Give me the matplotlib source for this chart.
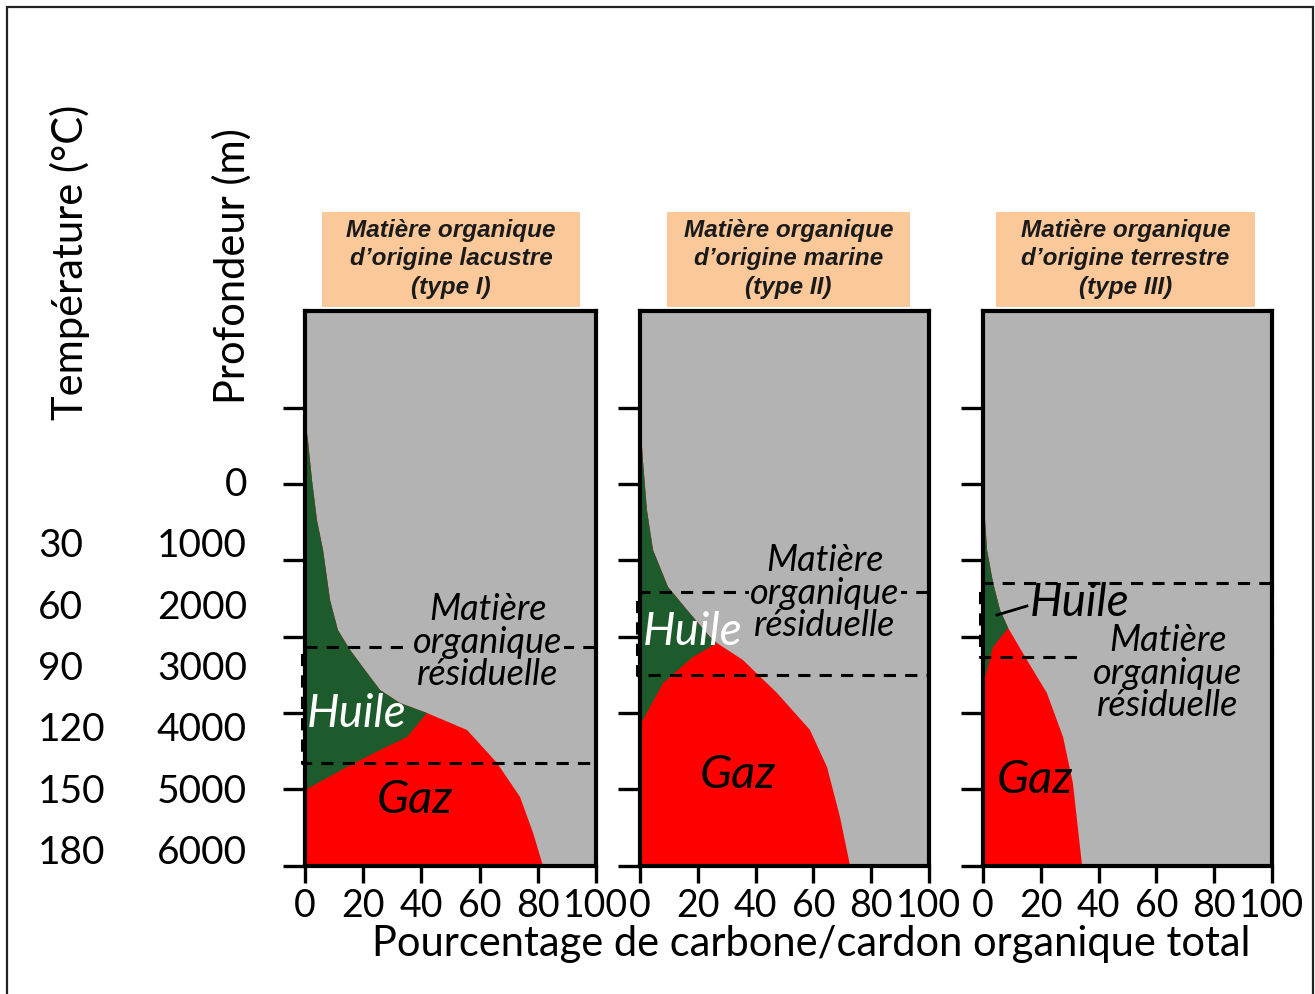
import matplotlib
matplotlib.use("Agg")
import matplotlib.pyplot as plt
from matplotlib.patches import Rectangle, Polygon
import numpy as np

W, H = 1315, 994

# ---- données (pourcentage, profondeur en m) ----
titres = ["Matière organique\nd\u2019origine lacustre\n(type I)",
          "Matière organique\nd\u2019origine marine\n(type II)",
          "Matière organique\nd\u2019origine terrestre\n(type III)"]

# limite externe (gris / couleur), du haut vers le bas
ext_pct = [
    [0, 1.0, 2.4, 4.1, 6.2, 8.6, 11.3, 15.5, 20.6, 25.8, 32.6, 41.9, 55.7, 66.0, 73.9, 78.4, 81.8],
    [0, 1.0, 2.4, 4.5, 9.7, 16.3, 24.2, 26.6, 35.6, 47.4, 58.8, 64.7, 69.2, 72.7],
    [0, 0.7, 1.4, 3.5, 5.9, 8.7, 15.2, 22.1, 27.7, 31.1, 34.3],
]
ext_prof = [
    [-865, -577, -52, 472, 865, 1520, 1913, 2175, 2438, 2700, 2870, 3001, 3224, 3656, 4102, 4574, 5006],
    [-865, -315, 341, 865, 1350, 1651, 2005, 2084, 2306, 2738, 3223, 3708, 4364, 5006],
    [-79, 472, 865, 1297, 1651, 1887, 2306, 2738, 3315, 3918, 5006],
]
# indice du point où huile et gaz se rejoignent
jonction = [11, 7, 5]
# limite huile / gaz, de la jonction jusqu'à l'axe
hg_pct = [
    [41.9, 35.1, 25.8, 14.4, 0],
    [26.6, 18.3, 8.0, 1.0, 0],
    [8.7, 3.5, 1.4, 0],
]
hg_prof = [
    [3001, 3316, 3486, 3709, 4010],
    [2084, 2267, 2608, 3093, 3120],
    [1887, 2136, 2437, 2608],
]
# fenêtre à huile (tirets) : haut, bas, fin du trait du bas
fenetre = [(2136, 3657, 99.5), (1415, 2503, 99.5), (1297, 2267, 35)]

# étiquettes de gauche
profondeurs = [0, 1000, 2000, 3000, 4000, 5000, 6000]
temperatures = ["", "30", "60", "90", "120", "150", "180"]
xticks = [0, 20, 40, 60, 80, 100]
yticks = [-1000, 0, 1000, 2000, 3000, 4000, 5000]

GRIS = "#b3b3b3"
VERT = "#1e5b2c"
ROUGE = "#ff0000"
PECHE = "#fbc999"

fig = plt.figure(figsize=(W / 100, H / 100), dpi=100)
fig.patch.set_facecolor("white")


def px_ax(x0, x1, y0, y1):
    return fig.add_axes([x0 / W, (H - y1) / H, (x1 - x0) / W, (y1 - y0) / H])


panels = [(305, 596), (640, 929), (983, 1272)]
entetes = [(322, 580), (667, 910), (996, 1255)]
txt_res = [(62.9, 2071), (64.0, 1429), (64.0, 2477)]
txt_huile = [(17.9, 3014), (18.3, 1940), (16.3, 1560)]
txt_gaz = [(37.8, 4141), (33.9, 3814), (18.0, 3879)]
DASH = (0, (4, 3))

for i, (x0, x1) in enumerate(panels):
    ax = px_ax(x0, x1, 311, 866)
    ax.set_facecolor(GRIS)
    ax.set_xlim(0, 100)
    ax.set_ylim(5006, -2267)

    ex = np.array(ext_pct[i])
    ey = np.array(ext_prof[i])
    # zone colorée totale (rouge), puis huile par-dessus
    couleur = np.column_stack([np.r_[ex, 0], np.r_[ey, ey[-1]]])
    ax.add_patch(Polygon(couleur, closed=True, fc=ROUGE, ec="none", zorder=1))
    j = jonction[i]
    huile = np.column_stack([np.r_[ex[:j + 1], hg_pct[i][1:]],
                             np.r_[ey[:j + 1], hg_prof[i][1:]]])
    ax.add_patch(Polygon(huile, closed=True, fc=VERT, ec="none", zorder=1.5))

    # fenêtre à huile
    y_haut, y_bas, x_fin = fenetre[i]
    ax.plot([99.5, -1, -1, x_fin], [y_haut, y_haut, y_bas, y_bas], color="black",
            lw=2.2, ls=DASH, clip_on=False, zorder=2)
    if i == 2:
        ax.plot([100, 100], [y_haut, y_bas], color="black", lw=2.2, ls=DASH,
                clip_on=False, zorder=6)

    ax.text(*txt_res[i], "Matière\norganique\nrésiduelle", ha="center", va="center",
            fontsize=26, style="italic", family="Lato", linespacing=0.98, zorder=3,
            bbox=dict(fc=GRIS, ec="none", pad=1))
    if i < 2:
        ax.text(*txt_huile[i], "Huile", ha="center", va="center", fontsize=33,
                style="italic", family="Lato", color="white", zorder=4)
    else:
        ax.text(*txt_huile[i], "Huile", ha="left", va="center", fontsize=33,
                style="italic", family="Lato", color="black", zorder=4)
        ax.plot([4.8, 15.2], [1717, 1599], color="black", lw=2, zorder=4)
    ax.text(*txt_gaz[i], "Gaz", ha="center", va="center", fontsize=34,
            style="italic", family="Lato", zorder=4)

    for s in ax.spines.values():
        s.set_linewidth(3)
        s.set_zorder(5)
    ax.set_xticks(xticks)
    ax.set_xticklabels([str(v) for v in xticks], family="Lato", fontsize=27)
    ax.set_yticks(yticks)
    ax.set_yticklabels([])
    ax.tick_params(axis="y", direction="out", length=16, width=2.4)
    ax.tick_params(axis="x", direction="out", length=12, width=2.4, pad=4)

    # en-tête
    hx0, hx1 = entetes[i]
    fig.patches.append(Rectangle((hx0 / W, (H - 307) / H), (hx1 - hx0) / W, 95 / H,
                                 transform=fig.transFigure, fc=PECHE, ec="none"))
    fig.text((hx0 + hx1) / 2 / W, (H - 259) / H, titres[i], ha="center", va="center",
             fontsize=17.5, weight="bold", style="italic", family="Liberation Sans",
             linespacing=1.3, color="#1a1a1a")

# étiquettes de profondeur et température
ax_lab = px_ax(0, 300, 311, 866)
ax_lab.axis("off")
ax_lab.set_xlim(0, 300)
ax_lab.set_ylim(6212, -2837)
for p, t in zip(profondeurs, temperatures):
    ax_lab.text(247, p, str(p), ha="right", va="center", fontsize=28, family="Lato")
    if t:
        ax_lab.text(38, p, t, ha="left", va="center", fontsize=28, family="Lato")

fig.text(70 / W, (H - 262) / H, "Température (°C)", rotation=90, ha="center",
         va="center", fontsize=30, family="Lato")
fig.text(232 / W, (H - 266) / H, "Profondeur (m)", rotation=90, ha="center",
         va="center", fontsize=30, family="Lato")
fig.text(811 / W, (H - 944) / H, "Pourcentage de carbone/cardon organique total",
         ha="center", va="center", fontsize=30, family="Lato")

# cadre extérieur
fig.patches.append(Rectangle((7 / W, -0.02), (1313 - 7) / W, (H - 7) / H + 0.02,
                             transform=fig.transFigure, fill=False, ec="#222222", lw=1.6))

fig.savefig("out.png", dpi=100)
